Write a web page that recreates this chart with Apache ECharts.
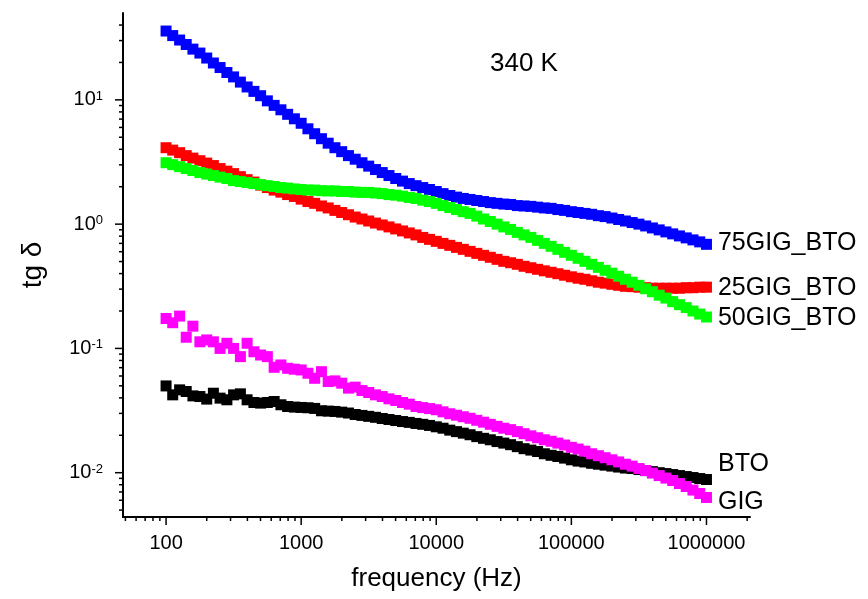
<!DOCTYPE html>
<html>
<head>
<meta charset="utf-8">
<script src="https://cdn.jsdelivr.net/npm/echarts@6/dist/echarts.min.js"></script>
<style>
html,body{margin:0;padding:0;background:#fff;}
#chart{width:868px;height:599px;}
</style>
</head>
<body>
<div id="chart"></div>
<script>
// Frequencies (Hz), 20 points per decade
const freqs = [
 100,112,126,141,158,178,200,224,251,282,316,355,398,447,501,562,631,708,794,891,
 1000,1122,1259,1413,1585,1778,1995,2239,2512,2818,3162,3548,3981,4467,5012,5623,6310,7079,7943,8913,
 10000,11220,12589,14125,15849,17783,19953,22387,25119,28184,31623,35481,39811,44668,50119,56234,63096,70795,79433,89125,
 100000,112202,125893,141254,158489,177828,199526,223872,251189,281838,316228,354813,398107,446684,501187,562341,630957,707946,794328,891251,
 1000000
];
const seriesNames = ['BTO','GIG','25GIG_BTO','75GIG_BTO','50GIG_BTO'];
const valBTO = [
 0.0499,0.0423,0.0464,0.0450,0.0415,0.0410,0.0391,0.0436,0.0398,0.0386,
 0.0423,0.0431,0.0386,0.0367,0.0363,0.0367,0.0374,0.0352,0.0341,0.0337,
 0.0335,0.0333,0.0329,0.0315,0.0313,0.0311,0.0307,0.0302,0.0294,0.0289,
 0.0284,0.0279,0.0273,0.0268,0.0263,0.0258,0.0254,0.0249,0.0245,0.0240,
 0.0234,0.0228,0.0220,0.0214,0.0208,0.0202,0.0195,0.0189,0.0184,0.0178,
 0.0173,0.0168,0.0162,0.0156,0.0152,0.0148,0.0142,0.0138,0.0135,0.0131,
 0.0127,0.0124,0.0122,0.0119,0.0117,0.0115,0.0113,0.0111,0.0109,0.0108,
 0.0106,0.0104,0.0102,0.0100,0.00984,0.00966,0.00948,0.00931,0.00914,0.00897,
 0.00881
];
const valGIG = [
 0.174,0.161,0.182,0.123,0.151,0.113,0.117,0.113,0.100,0.110,
 0.100,0.0859,0.110,0.094,0.0885,0.0859,0.0705,0.0736,0.0692,0.0680,
 0.0671,0.0631,0.0575,0.0650,0.0541,0.0548,0.0525,0.0479,0.0488,0.0458,
 0.0442,0.0423,0.0410,0.0393,0.0381,0.0367,0.0356,0.0341,0.0334,0.0328,
 0.0321,0.0309,0.0298,0.0290,0.0282,0.0274,0.0264,0.0255,0.0245,0.0236,
 0.0228,0.0222,0.0214,0.0206,0.0198,0.0191,0.0184,0.0179,0.0173,0.0167,
 0.0160,0.0155,0.0149,0.0142,0.0137,0.0132,0.0127,0.0122,0.0117,0.0113,
 0.0108,0.0104,0.00993,0.00948,0.00905,0.00865,0.00818,0.00774,0.00725,0.00680,
 0.00632
];
const val25 = [
 4.12,3.94,3.76,3.56,3.40,3.24,3.10,2.96,2.80,2.67,
 2.55,2.41,2.28,2.18,2.06,1.97,1.88,1.81,1.73,1.67,
 1.59,1.52,1.47,1.40,1.35,1.29,1.24,1.19,1.14,1.10,
 1.06,1.02,0.985,0.950,0.915,0.882,0.850,0.819,0.782,0.754,
 0.727,0.700,0.675,0.650,0.627,0.604,0.582,0.561,0.541,0.521,
 0.502,0.489,0.475,0.458,0.446,0.433,0.421,0.410,0.399,0.388,
 0.377,0.367,0.360,0.350,0.341,0.335,0.328,0.322,0.316,0.314,
 0.311,0.308,0.305,0.305,0.305,0.305,0.305,0.308,0.308,0.311,
 0.311
];
const val75 = [
 35.8,32.9,30.3,27.9,25.6,23.8,21.7,19.8,18.2,16.6,
 15.3,13.9,12.7,11.7,10.8,9.82,9.03,8.32,7.65,7.04,
 6.48,5.85,5.34,4.87,4.48,4.12,3.83,3.56,3.33,3.12,
 2.93,2.75,2.60,2.46,2.33,2.22,2.12,2.04,1.97,1.90,
 1.83,1.76,1.70,1.65,1.61,1.58,1.55,1.52,1.49,1.47,
 1.45,1.44,1.41,1.40,1.39,1.37,1.35,1.34,1.31,1.29,
 1.26,1.24,1.22,1.20,1.17,1.15,1.12,1.09,1.06,1.03,
 1.00,0.967,0.932,0.899,0.866,0.835,0.804,0.775,0.747,0.720,
 0.688
];
const val50 = [
 3.12,3.01,2.90,2.80,2.70,2.60,2.53,2.46,2.39,2.33,
 2.24,2.20,2.16,2.12,2.08,2.04,2.01,1.97,1.95,1.92,
 1.90,1.88,1.88,1.86,1.85,1.85,1.83,1.83,1.81,1.80,
 1.80,1.78,1.76,1.73,1.71,1.68,1.64,1.61,1.56,1.52,
 1.47,1.41,1.36,1.31,1.26,1.22,1.16,1.10,1.05,1.00,
 0.950,0.907,0.858,0.819,0.782,0.740,0.700,0.663,0.627,0.593,
 0.561,0.531,0.502,0.475,0.449,0.425,0.403,0.381,0.360,0.341,
 0.322,0.302,0.286,0.268,0.254,0.238,0.225,0.213,0.200,0.189,
 0.179
];
const seriesColors = ['#000000','#ff00ff','#ff0000','#0000ff','#00ff00'];
const labelOffsets = [[0,-15],[0,5],[0,1],[0,-1],[0,1]];
const xMajorTicks = [100,1000,10000,100000,1000000];
const yMajorTicks = [0.01,0.1,1,10];
const xRange = [48, 2.1e6];
const yRange = [0.0044, 50];
const annotation = '340 K';

const FONT = '"Liberation Sans", Arial, sans-serif';
const allVals = [valBTO, valGIG, val25, val75, val50];

function isPow10(v){ const l = Math.log10(v); return Math.abs(l - Math.round(l)) < 1e-6; }

// tick marks (drawn through the axis scales)
const tickData = [];
xMajorTicks.forEach(v => tickData.push([v, yRange[0], 0, 8]));
yMajorTicks.forEach(v => tickData.push([xRange[0], v, 1, 8]));
for (let d = 10; d <= 1e6; d *= 10) {
  for (let m = 2; m <= 9; m++) {
    const v = d * m;
    if (v > xRange[0] && v < xRange[1]) tickData.push([v, yRange[0], 0, 4]);
  }
}
for (let d = 0.001; d <= 10; d *= 10) {
  for (let m = 2; m <= 9; m++) {
    const v = d * m;
    if (v > yRange[0] && v < yRange[1]) tickData.push([xRange[0], v, 1, 4]);
  }
}

const series = allVals.map((vals, si) => {
  const data = freqs.map((f, i) => [f, vals[i]]);
  const last = data.length - 1;
  data[last] = {
    value: data[last],
    label: {
      show: true, position: 'right', distance: 6,
      offset: labelOffsets[si],
      formatter: seriesNames[si],
      fontSize: 25, fontFamily: FONT, color: '#000'
    }
  };
  return {
    name: seriesNames[si], type: 'scatter', symbol: 'rect', symbolSize: 11,
    itemStyle: { color: seriesColors[si], opacity: 1 },
    data: data, silent: true, z: 2 + si
  };
});
series.push({
  type: 'custom', coordinateSystem: 'cartesian2d', silent: true, clip: false, z: 1,
  renderItem: function (params, api) {
    const p = api.coord([api.value(0), api.value(1)]);
    const t = api.value(2), len = api.value(3);
    const shape = t === 0
      ? { x1: p[0], y1: p[1], x2: p[0], y2: p[1] + len }
      : { x1: p[0] - len, y1: p[1], x2: p[0], y2: p[1] };
    return { type: 'line', shape: shape, style: { stroke: '#000', lineWidth: 1.5 } };
  },
  data: tickData
});

const chart = echarts.init(document.getElementById('chart'), null, { renderer: 'canvas' });
chart.setOption({
  animation: false,
  backgroundColor: '#fff',
  grid: { left: 123, right: 118, top: 13, bottom: 82 },
  xAxis: {
    type: 'log', logBase: 10, min: xRange[0], max: xRange[1],
    name: 'frequency (Hz)', nameLocation: 'middle', nameGap: 49,
    nameTextStyle: { fontSize: 26, fontFamily: FONT, color: '#000' },
    axisLine: { show: true, lineStyle: { color: '#000', width: 2 } },
    axisTick: { show: false }, splitLine: { show: false }, minorTick: { show: false },
    axisLabel: {
      margin: 16, fontSize: 20, fontFamily: FONT, color: '#000',
      formatter: v => isPow10(v) ? String(Math.round(v)) : ''
    }
  },
  yAxis: {
    type: 'log', logBase: 10, min: yRange[0], max: yRange[1],
    name: 'tg δ', nameLocation: 'middle', nameGap: 76,
    nameTextStyle: { fontSize: 28, fontFamily: FONT, color: '#000' },
    axisLine: { show: true, lineStyle: { color: '#000', width: 2 } },
    axisTick: { show: false }, splitLine: { show: false }, minorTick: { show: false },
    axisLabel: {
      margin: 20, color: '#000',
      formatter: v => isPow10(v) ? '{b|10}{s|' + Math.round(Math.log10(v)) + '}' : '',
      rich: {
        b: { fontSize: 20, fontFamily: FONT, color: '#000' },
        s: { fontSize: 13, fontFamily: FONT, color: '#000', verticalAlign: 'top' }
      }
    }
  },
  graphic: [{
    type: 'text', left: 490, top: 51,
    style: { text: annotation, fontSize: 26, fontFamily: FONT, fill: '#000' }
  }],
  series: series
});
</script>
</body>
</html>
